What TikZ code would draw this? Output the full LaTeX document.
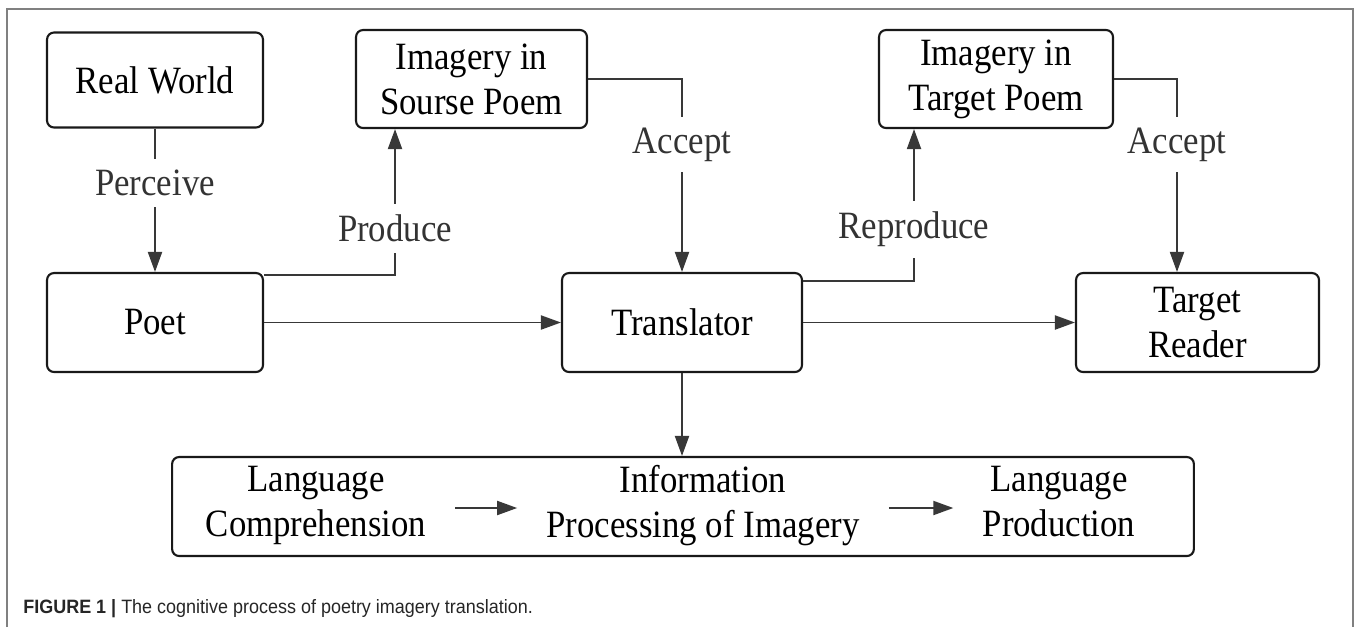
\documentclass[tikz,border=0pt]{standalone}
\usepackage{fontspec}
\setmainfont{Liberation Serif}[FakeStretch=0.9]
\newfontfamily\capfont[FakeStretch=0.93]{Liberation Sans}
\usetikzlibrary{arrows.meta, positioning}

\begin{document}
\begin{tikzpicture}[x=0.02cm, y=-0.02cm,
    box/.style={draw=black!90, line width=1.2pt, rounded corners=0.14cm, align=center, inner sep=0pt, font=\fontsize{22}{25.6}\selectfont},
    conn/.style={draw=black!78, line width=1.1pt, -{Triangle[length=0.4cm, width=0.28cm]}},
    lbl/.style={fill=white, inner xsep=0.1cm, inner ysep=0.22cm, text=black!80, font=\fontsize{22}{25.6}\selectfont},
    stage/.style={align=center, inner xsep=0.58cm, inner ysep=0pt, font=\fontsize{22}{25.6}\selectfont}]
    \path[use as bounding box, fill=white] (0,0) rectangle (1357,627);
    % outer frame
    \draw[black!50, line width=0.7pt] (7,627) -- (7,9) -- (1353,9) -- (1353,627);

    % boxes
    \node[box, minimum width=4.32cm, minimum height=1.9cm] (world) at (155,80) {Real World};
    \node[box, minimum width=4.62cm, minimum height=1.96cm] (srcimg) at (471.5,79) {Imagery in\\Sourse Poem};
    \node[box, minimum width=4.68cm, minimum height=1.96cm] (tgtimg) at (996,79) {Imagery in\\Target Poem};
    \node[box, minimum width=4.32cm, minimum height=1.98cm] (poet) at (155,322.5) {Poet};
    \node[box, minimum width=4.8cm, minimum height=1.98cm] (translator) at (682,322.5) {Translator};
    \node[box, minimum width=4.86cm, minimum height=1.98cm] (reader) at (1197.5,322.5) {Target\\Reader};
    \node[box, minimum width=20.44cm, minimum height=1.98cm] (process) at (683,506.5) {};

    % stages inside the process box
    \node[stage] (comp) at (316,508) {Language\\Comprehension\strut};
    \node[stage] (info) at (703,508) {Information\\Processing of Imagery\strut};
    \node[stage] (prod) at (1059,508) {Language\\Production\strut};

    % connectors
    \draw[conn] (world) -- node[lbl, pos=0.38] {Perceive} (poet);
    \draw[conn] ([yshift=-0.06cm]poet.north east) -| node[lbl, pos=0.66] {Produce} ([xshift=-1.53cm]srcimg.south);
    \draw[conn] (srcimg.east) -| node[lbl, pos=0.67] {Accept} (translator.north);
    \draw[conn] ([yshift=-0.18cm]translator.north east) -| node[lbl, pos=0.67] {Reproduce} ([xshift=-1.64cm]tgtimg.south);
    \draw[conn] (tgtimg.east) -| node[lbl, pos=0.67] {Accept} ([xshift=-0.41cm]reader.north);
    \draw[conn] (poet) -- (translator);
    \draw[conn] (translator) -- (reader);
    \draw[conn] (translator.south) -- (translator.south |- process.north);
    \draw[conn] (comp) -- (info);
    \draw[conn] (info) -- (prod);

    % caption
    \node[anchor=base west, inner sep=0pt, text=black!85, font=\capfont\fontsize{11}{13}\selectfont] (caption) at (23,613) {\textbf{FIGURE 1 |} The cognitive process of poetry imagery translation.};
\end{tikzpicture}
\end{document}
